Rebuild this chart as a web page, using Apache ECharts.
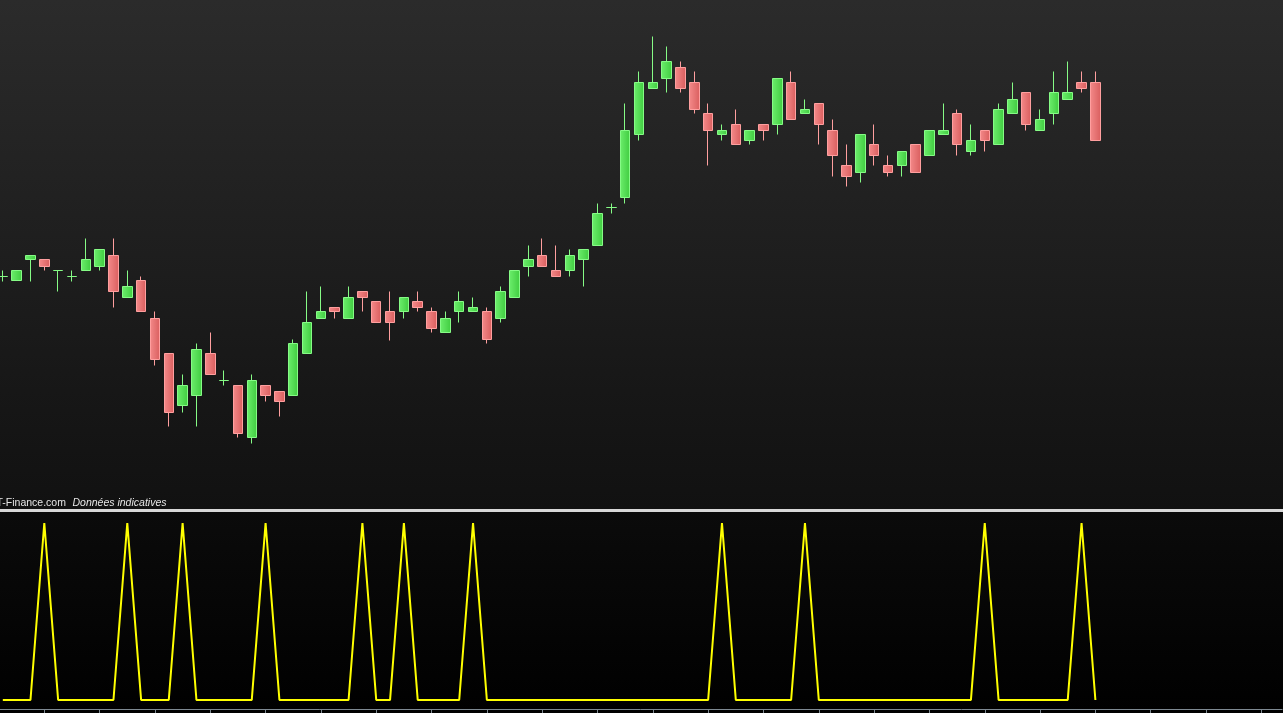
<!DOCTYPE html>
<html>
<head>
<meta charset="utf-8">
<script src="https://cdn.jsdelivr.net/npm/echarts@6/dist/echarts.min.js"></script>
<style>
html,body{margin:0;padding:0;background:#000;}
#chart{width:1283px;height:713px;}
</style>
</head>
<body>
<div id="chart"></div>
<script>
// ---- data ----
const slotCount = 93; // 80 sessions + empty room on the right
const categories = Array.from({length: slotCount}, (_, i) => 'S' + (i + 1));

const opens = [32.4,32.0,34.1,34.1,33.0,32.4,33.0,33.4,34.5,30.3,
  32.0,28.2,24.7,19.5,20.5,24.7,22.0,21.5,16.3,21.5,
  20.9,20.5,24.7,28.2,29.3,28.2,30.9,29.9,28.9,28.9,
  29.9,28.9,26.8,28.9,28.9,28.9,28.2,30.3,33.4,34.5,
  33.0,33.0,34.1,35.5,39.3,40.3,46.6,51.2,52.2,53.3,
  51.8,48.7,46.6,47.6,46.0,47.6,47.6,51.8,48.7,49.7,
  47.0,43.5,42.8,45.6,43.5,43.5,45.6,44.5,46.6,48.7,
  44.9,47.0,45.6,48.7,50.8,47.0,48.7,50.1,51.8,51.8];

const closes = [32.4,33.0,34.5,33.4,33.0,32.4,34.1,35.1,30.9,31.4,
  28.9,24.1,18.8,21.5,25.1,22.6,22.0,16.7,22.0,20.5,
  19.9,25.7,27.8,28.9,28.9,30.3,30.3,27.8,27.8,30.3,
  29.3,27.2,28.2,29.9,29.3,26.1,30.9,33.0,34.1,33.4,
  32.4,34.5,35.1,38.7,39.3,47.0,51.8,51.8,53.9,51.2,
  49.1,47.0,47.0,45.6,47.0,47.0,52.2,48.1,49.1,47.6,
  44.5,42.4,46.6,44.5,42.8,44.9,42.8,47.0,47.0,45.6,
  46.0,46.0,49.1,50.1,47.6,48.1,50.8,50.8,51.2,46.0];

const lows = [31.9,32.0,31.9,33.0,30.9,31.9,33.0,33.0,29.3,30.3,
  28.9,23.5,17.4,18.8,17.4,22.6,21.5,16.3,15.7,19.9,
  18.4,20.5,24.7,28.2,28.2,28.2,28.9,27.8,26.0,28.2,
  28.9,26.8,26.8,27.8,28.9,25.7,27.8,30.3,32.4,33.4,
  32.4,32.4,31.4,35.5,38.7,39.7,46.0,51.2,50.8,50.8,
  48.7,43.5,46.0,45.6,45.6,46.0,46.6,48.1,48.7,45.6,
  42.4,41.4,41.8,43.5,42.4,42.4,42.8,44.5,46.6,44.5,
  44.5,44.9,45.6,48.7,47.0,47.0,47.6,50.1,50.8,46.0];

const highs = [33.0,33.0,34.5,34.1,33.0,33.0,36.2,35.1,36.2,33.0,
  32.4,28.9,24.7,22.6,25.7,26.8,23.0,21.5,22.6,21.5,
  20.9,26.1,30.9,31.4,29.3,31.4,30.9,29.9,30.9,30.3,
  30.9,29.3,28.9,30.9,30.3,29.3,31.4,33.0,35.5,36.2,
  35.5,35.1,35.1,39.7,39.7,49.7,52.9,56.4,55.4,53.9,
  52.9,49.7,47.6,49.1,47.0,47.6,52.2,52.9,50.1,49.7,
  48.1,45.6,46.6,47.6,44.5,44.9,45.6,47.0,49.7,49.1,
  47.6,47.0,49.7,51.8,50.8,49.1,52.9,53.9,52.9,52.9];

// doji sessions drawn in the "up" colour
const dojiUp = [0, 4, 5, 16, 44];

// lower indicator (0 / 1 signal)
const signal = [0,0,0,1,0,0,0,0,0,1,
  0,0,0,1,0,0,0,0,0,1,
  0,0,0,0,0,0,1,0,0,1,
  0,0,0,0,1,0,0,0,0,0,
  0,0,0,0,0,0,0,0,0,0,
  0,0,1,0,0,0,0,0,1,0,
  0,0,0,0,0,0,0,0,0,0,
  0,1,0,0,0,0,0,0,1,0];

// ---- styles ----
const upFill = {type:'linear',x:0,y:0,x2:1,y2:0,colorStops:[{offset:0,color:'#6cee6c'},{offset:1,color:'#40cc40'}]};
const downFill = {type:'linear',x:0,y:0,x2:1,y2:0,colorStops:[{offset:0,color:'#f48a8a'},{offset:1,color:'#d95e5e'}]};
const upBorder = '#86fb86';
const downBorder = '#ff9f9f';

const candleData = opens.map((o, i) => {
  const item = {value: [o, closes[i], lows[i], highs[i]]};
  if (dojiUp.indexOf(i) >= 0) {
    item.itemStyle = {color: upFill, color0: upFill, borderColor: upBorder, borderColor0: upBorder};
  }
  return item;
});

const gridLeft = -4.1, gridWidth = 1286.2;

const chart = echarts.init(document.getElementById('chart'), null, {renderer: 'canvas'});
chart.setOption({
  animation: false,
  backgroundColor: '#000',
  graphic: [
    {type:'rect', z:-10, silent:true, shape:{x:0,y:0,width:1283,height:509},
     style:{fill:{type:'linear',x:0,y:0,x2:0,y2:1,colorStops:[{offset:0,color:'#2b2b2b'},{offset:1,color:'#111111'}]}}},
    {type:'rect', z:-10, silent:true, shape:{x:0,y:512,width:1283,height:201},
     style:{fill:{type:'linear',x:0,y:0,x2:0,y2:1,colorStops:[{offset:0,color:'#0b0b0b'},{offset:1,color:'#000000'}]}}},
    {type:'rect', z:5, silent:true, shape:{x:0,y:509,width:1283,height:3}, style:{fill:'#d8d8d8'}},
    {type:'text', z:5, silent:true, x:-3.5, y:498,
     style:{text:'T-Finance.com', fill:'#e6e6e6', font:'10.5px "Liberation Sans", Arial, sans-serif'}},
    {type:'text', z:5, silent:true, x:72.5, y:498,
     style:{text:'Données indicatives', fill:'#e6e6e6', font:'italic 10.5px "Liberation Sans", Arial, sans-serif'}}
  ],
  grid: [
    {left: gridLeft, top: 0.5, width: gridWidth, height: 510, outerBoundsMode:'none', containLabel:false},
    {left: gridLeft, top: 512, width: gridWidth, height: 197, outerBoundsMode:'none', containLabel:false}
  ],
  xAxis: [
    {type:'category', gridIndex:0, data:categories, boundaryGap:true, show:false},
    {type:'category', gridIndex:1, data:categories, boundaryGap:true, position:'bottom',
     axisLine:{show:true, onZero:false, lineStyle:{color:'#7d8891', width:1}},
     axisTick:{show:true, alignWithLabel:true, length:5, lineStyle:{color:'#7d8891'},
       interval: function (idx) { return idx % 4 === 3; }},
     axisLabel:{show:false}, splitLine:{show:false}}
  ],
  yAxis: [
    {type:'value', gridIndex:0, min:9, max:60, show:false, splitLine:{show:false}},
    {type:'value', gridIndex:1, min:-0.0508, max:1.0621, show:false, splitLine:{show:false}}
  ],
  series: [
    {type:'candlestick', xAxisIndex:0, yAxisIndex:0, data:candleData, barWidth:10,
     itemStyle:{color:upFill, color0:downFill, borderColor:upBorder, borderColor0:downBorder, borderWidth:1}},
    {type:'line', xAxisIndex:1, yAxisIndex:1, data:signal, symbol:'none',
     lineStyle:{color:'#ffff00', width:2}}
  ]
});
</script>
</body>
</html>
